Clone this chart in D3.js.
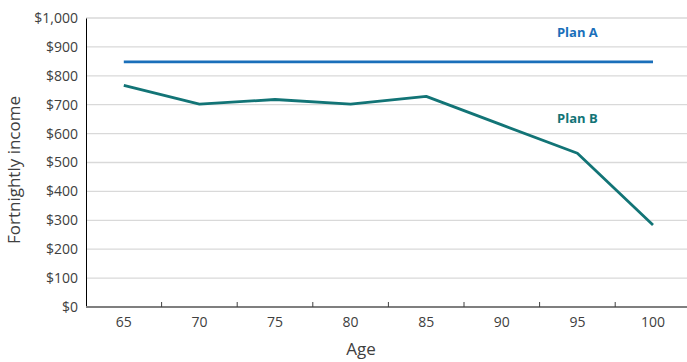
<!DOCTYPE html>
<html><head><meta charset="utf-8">
<script src="https://cdn.jsdelivr.net/npm/d3@7"></script>
<style>body{margin:0;background:#fff}svg{display:block}text{font-family:"Open Sans","Noto Sans",sans-serif}</style>
</head><body><svg id="c" width="687" height="362"></svg>
<script>
const ages = ["65","70","75","80","85","90","95","100"];
const planA = [848,848,848,848,848,848,848,848];
const planB = [767,702,718,702,729,630,532,284];
const yTicks = [0,100,200,300,400,500,600,700,800,900,1000];
const seriesNames = ["Plan A","Plan B"];
const colors = ["#1a6fba","#127476"];

(function(){
const svg = d3.select("#c");
const mLeft = 86, mTop = 18, mBottom = 307, step = 75.6;
const x = d3.scaleBand().domain(ages).range([mLeft, mLeft + step*ages.length]).padding(0);
const y = d3.scaleLinear().domain([0,1000]).range([mBottom, mTop]);

svg.append("g").selectAll("line").data(yTicks.filter(d=>d>0)).join("line")
  .attr("x1", mLeft).attr("x2", 687).attr("y1", d=>y(d)).attr("y2", d=>y(d))
  .attr("stroke","#d9d9d9").attr("stroke-width",1.3);

const ya = svg.append("g").attr("transform",`translate(${mLeft},0)`)
  .call(d3.axisLeft(y).tickValues(yTicks).tickSize(0).tickPadding(8).tickFormat(d=>"$"+d3.format(",")(d)));
ya.select(".domain").attr("stroke","#000").attr("stroke-width",1);
ya.selectAll("text").attr("font-size",14).attr("fill","#404040");

const xa = svg.append("g").attr("transform",`translate(0,${mBottom})`)
  .call(d3.axisBottom(x).tickSize(0).tickPadding(10));
xa.select(".domain").attr("stroke","#7f7f7f").attr("stroke-width",2).attr("d",`M${mLeft},0H687`);
xa.selectAll("text").attr("font-size",14).attr("fill","#404040");
svg.append("g").selectAll("line").data(ages.slice(1)).join("line")
  .attr("x1", d=>x(d)).attr("x2", d=>x(d)).attr("y1", mBottom-5).attr("y2", mBottom)
  .attr("stroke","#404040").attr("stroke-width",1);

const line = d3.line().x((d,i)=>x(ages[i])+x.bandwidth()/2).y(d=>y(d));
[planA, planB].forEach((s,i)=>{
  svg.append("path").attr("d", line(s)).attr("fill","none")
    .attr("stroke", colors[i]).attr("stroke-width", 2.8).attr("stroke-linejoin","round");
});

const lx = x("95")+x.bandwidth()/2;
svg.append("text").attr("x",lx).attr("y",37).attr("text-anchor","middle")
  .attr("font-size",13).attr("font-weight","bold").attr("fill",colors[0]).text(seriesNames[0]);
svg.append("text").attr("x",lx).attr("y",123).attr("text-anchor","middle")
  .attr("font-size",13).attr("font-weight","bold").attr("fill",colors[1]).text(seriesNames[1]);

svg.append("text").attr("transform","translate(20,170) rotate(-90)").attr("text-anchor","middle")
  .attr("font-size",17).attr("fill","#404040").text("Fortnightly income");
svg.append("text").attr("x",361).attr("y",355).attr("text-anchor","middle")
  .attr("font-size",17).attr("fill","#404040").text("Age");
})();
</script></body></html>
